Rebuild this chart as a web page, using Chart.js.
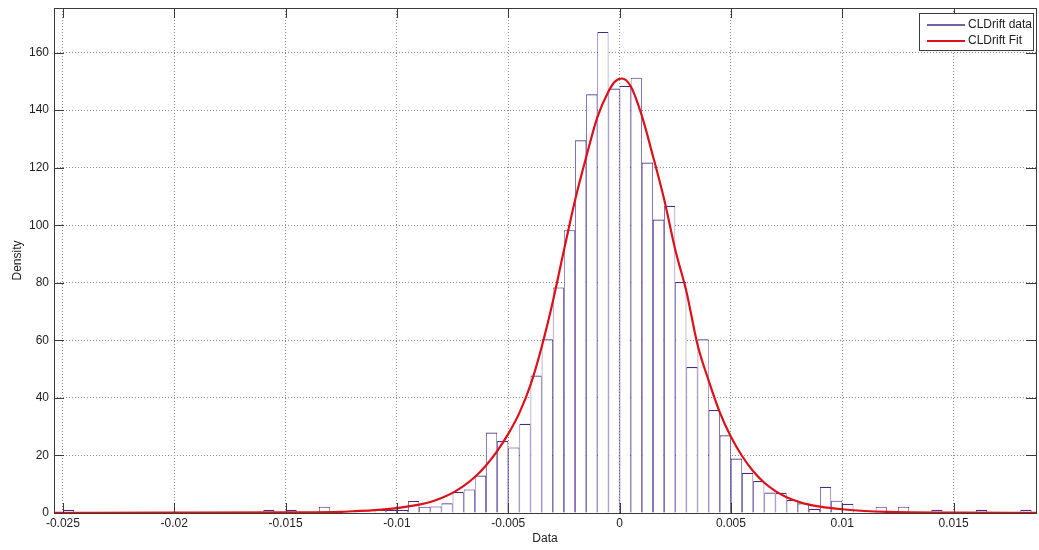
<!DOCTYPE html>
<html lang="en">
<head>
    <meta charset="UTF-8">
    <title>CLDrift - density fit</title>
    <script src="https://cdn.jsdelivr.net/npm/chart.js"></script>
    <style>
        html, body { margin: 0; padding: 0; background: #fff; }
        #wrap { width: 1039px; height: 550px; }
    </style>
</head>
<body>
    <div id="wrap">
        <canvas id="driftChart" width="1039" height="550"></canvas>
    </div>

    <script>
        // histogram bins: first left edge and width
        const binStart = -0.025;
        const binWidth = 0.0005;

        // density per bin
        const density = [
            1.1, 0, 0, 0, 0, 0, 0, 0, 0, 0,
            0, 0, 0, 0, 0, 0, 0, 0, 1.1, 0,
            1.1, 0, 0, 2.2, 0, 0, 0, 0, 1.1, 1.1,
            1.1, 4.2, 2.2, 2.3, 3.4, 7.3, 8.2, 13, 28, 25,
            22.8, 31, 47.8, 60.4, 78.4, 98.3, 129.5, 145.5, 167.2, 147.5,
            148.5, 151.3, 121.8, 102, 106.8, 80.3, 50.7, 60.4, 35.8, 27,
            18.9, 14, 11.1, 7.1, 7, 4.5, 3.4, 1.5, 9.1, 4.3,
            3.2, 1.1, 0, 2.2, 0, 2.2, 0, 0, 1.1, 0,
            0, 0, 1.1, 0, 0, 0, 1.1
        ];

        // fitted curve, sampled from the plot
        const fitX = [-0.0254, -0.02, -0.015, -0.0125, -0.012, -0.011, -0.01, -0.009, -0.0085, -0.008,
                      -0.0075, -0.007, -0.0065, -0.006, -0.0055, -0.005, -0.0045, -0.004, -0.0035, -0.003,
                      -0.0025, -0.002, -0.0015, -0.001, -0.0005, -0.0002, 0.0001, 0.0005, 0.001, 0.0015,
                      0.002, 0.0025, 0.003, 0.0035, 0.004, 0.0045, 0.005, 0.0055, 0.006, 0.0065,
                      0.007, 0.0075, 0.008, 0.0085, 0.009, 0.01, 0.011, 0.012, 0.015, 0.0187];
        const fitY = [0.05, 0.1, 0.2, 0.4, 0.6, 1.0, 1.7, 2.9, 3.8, 5.2,
                      7.0, 9.4, 12.5, 16.5, 21.5, 27.5, 34.8, 44.5, 57.7, 73.4,
                      91.3, 108.7, 123.7, 137.5, 146.5, 150, 151, 148.3, 138, 124,
                      109, 91.5, 77, 58.5, 46, 35, 26.5, 19.8, 14.5, 10.5,
                      7.6, 5.5, 4.0, 2.9, 2.2, 1.3, 0.7, 0.4, 0.15, 0.05];

        const xMin = -0.0254, xMax = 0.0187;
        const yMin = 0, yMax = 175.5;

        const barColor = 'rgb(72,42,140)';
        const fitColor = 'rgb(222,16,24)';
        const axisColor = '#3a3a3a';
        const font = { family: '"Liberation Sans", Arial, sans-serif', size: 12 };

        const histData = density.map((v, i) => ({ x: binStart + (i + 0.5) * binWidth, y: v }));
        const fitData = fitX.map((x, i) => ({ x: x, y: fitY[i] }));

        // MATLAB-like box, inward ticks and legend
        const matlabAxes = {
            id: 'matlabAxes',
            afterDatasetsDraw(chart) {
                const { ctx, chartArea: a, scales } = chart;
                const tl = 10;
                ctx.save();
                ctx.strokeStyle = axisColor;
                ctx.lineWidth = 1;
                ctx.beginPath();
                scales.x.ticks.forEach(t => {
                    const px = Math.round(scales.x.getPixelForValue(t.value)) + 0.5;
                    ctx.moveTo(px, a.bottom); ctx.lineTo(px, a.bottom - tl);
                    ctx.moveTo(px, a.top); ctx.lineTo(px, a.top + tl);
                });
                scales.y.ticks.forEach(t => {
                    const py = Math.round(scales.y.getPixelForValue(t.value)) + 0.5;
                    ctx.moveTo(a.left, py); ctx.lineTo(a.left + tl, py);
                    ctx.moveTo(a.right, py); ctx.lineTo(a.right - tl, py);
                });
                ctx.stroke();
                ctx.strokeRect(Math.round(a.left) + 0.5, Math.round(a.top) + 0.5,
                               Math.round(a.right - a.left), Math.round(a.bottom - a.top));

                // legend
                const bx = 919.5, by = 13.5, bw = 114, bh = 37;
                ctx.fillStyle = '#fff';
                ctx.fillRect(bx, by, bw, bh);
                ctx.strokeStyle = axisColor;
                ctx.strokeRect(bx, by, bw, bh);
                const rows = [
                    { label: chart.data.datasets[1].label, color: barColor, w: 1.5, y: 25 },
                    { label: chart.data.datasets[0].label, color: fitColor, w: 2.2, y: 41 }
                ];
                ctx.font = font.size + 'px ' + font.family;
                ctx.textBaseline = 'middle';
                rows.forEach(r => {
                    ctx.strokeStyle = r.color;
                    ctx.lineWidth = r.w;
                    ctx.beginPath();
                    ctx.moveTo(927, r.y); ctx.lineTo(965, r.y);
                    ctx.stroke();
                    ctx.fillStyle = '#222';
                    ctx.fillText(r.label, 968, r.y);
                });
                ctx.restore();
            }
        };

        new Chart(document.getElementById('driftChart'), {
            type: 'bar',
            data: {
                datasets: [
                    {
                        type: 'line',
                        label: 'CLDrift Fit',
                        data: fitData,
                        borderColor: fitColor,
                        borderWidth: 2.2,
                        pointRadius: 0,
                        cubicInterpolationMode: 'monotone',
                        order: 0
                    },
                    {
                        type: 'bar',
                        label: 'CLDrift data',
                        data: histData,
                        backgroundColor: '#fff',
                        borderColor: barColor,
                        borderWidth: { top: 1.2, left: 0.8, right: 0.8, bottom: 0 },
                        borderSkipped: false,
                        inflateAmount: 0,
                        barPercentage: 1,
                        categoryPercentage: 1,
                        grouped: false,
                        order: 1
                    }
                ]
            },
            options: {
                responsive: false,
                animation: false,
                layout: { padding: { top: 8, right: 3, left: 0, bottom: 0 } },
                plugins: {
                    legend: { display: false },
                    tooltip: { enabled: false }
                },
                scales: {
                    x: {
                        type: 'linear',
                        min: xMin,
                        max: xMax,
                        offset: false,
                        grid: { color: '#8a8a8a', drawTicks: false, offset: false },
                        border: { display: false, dash: [1, 2] },
                        ticks: {
                            stepSize: 0.005,
                            includeBounds: false,
                            maxRotation: 0,
                            autoSkip: false,
                            padding: 3,
                            color: '#222',
                            font: font,
                            callback: v => String(parseFloat(v.toFixed(4)))
                        },
                        title: { display: true, text: 'Data', color: '#222', font: font, padding: { top: 0, bottom: 4 } },
                        afterFit: s => { s.height = 37; s.paddingLeft = 0; s.paddingRight = 0; }
                    },
                    y: {
                        min: yMin,
                        max: yMax,
                        grid: { color: '#8a8a8a', drawTicks: false },
                        border: { display: false, dash: [1, 2] },
                        ticks: {
                            stepSize: 20,
                            includeBounds: false,
                            padding: 5,
                            color: '#222',
                            font: font
                        },
                        title: { display: true, text: 'Density', color: '#222', font: font, padding: { top: 10, bottom: 0 } },
                        afterFit: s => { s.width = 54; s.paddingTop = 0; s.paddingBottom = 0; }
                    }
                }
            },
            plugins: [matlabAxes]
        });
    </script>
</body>
</html>
